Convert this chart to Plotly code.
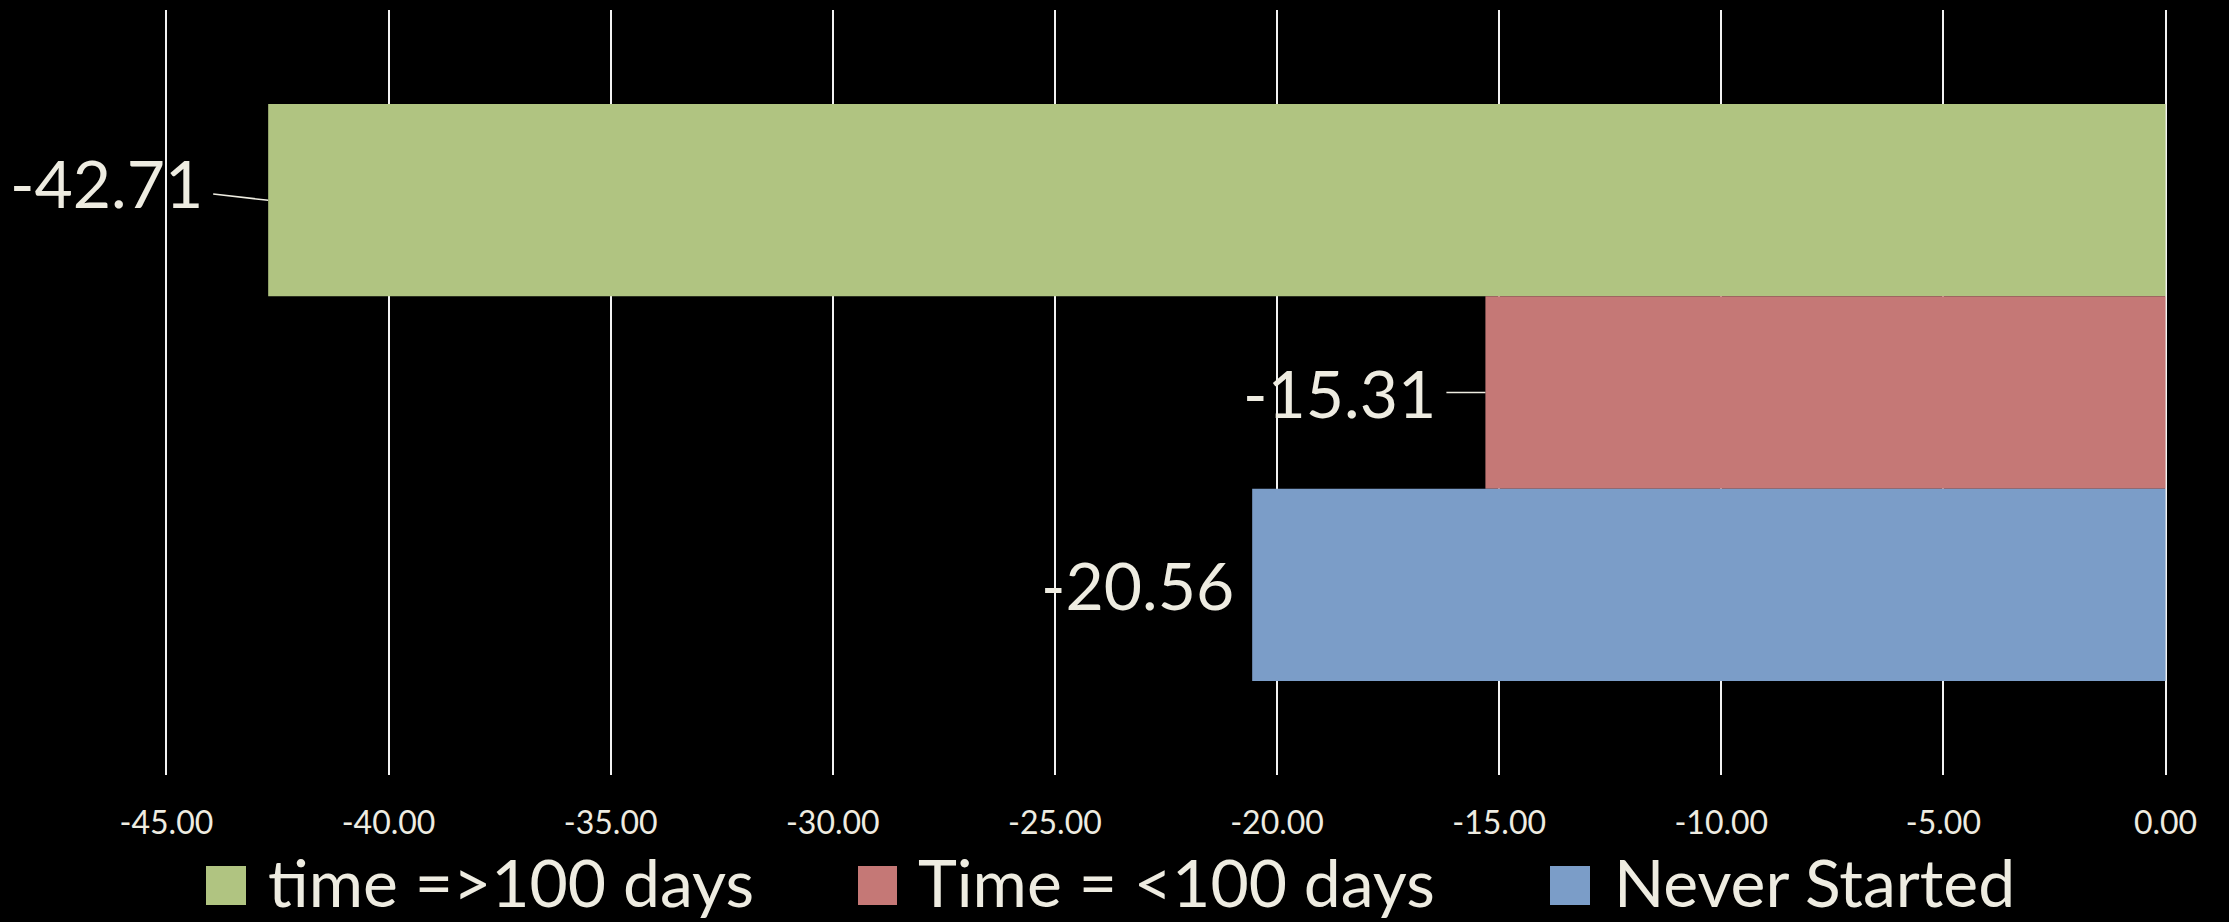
import plotly.graph_objects as go

# ---- data ----
series_names = ["time =>100 days", "Time = <100 days", "Never Started"]
series_values = [-42.71, -15.31, -20.56]
tick_values = [-45, -40, -35, -30, -25, -20, -15, -10, -5, 0]
tick_labels = ["-45.00", "-40.00", "-35.00", "-30.00", "-25.00", "-20.00",
               "-15.00", "-10.00", "-5.00", "0.00"]

# ---- style ----
colors = ["#B0C481", "#C57876", "#7B9DC8"]
text_color = "#EEECE1"
FONT = "Lato, Gill Sans, sans-serif"
W, H = 2229, 922
L, R, T, B = 162, 59, 10, 147
pw, ph = W - L - R, H - T - B
bargap = 0.246


def px(xp):
    return (xp - L) / pw


def py(yp):
    return (H - B - yp) / ph


fig = go.Figure()
for name, val, col in zip(series_names, series_values, colors):
    fig.add_trace(go.Bar(x=[val], y=[0], orientation="h", name=name,
                         marker=dict(color=col, line=dict(width=0)),
                         showlegend=False, hoverinfo="x+name"))

n = len(series_values)
slot = (1 - bargap) / n
centers = [-(1 - bargap) / 2 + (i + 0.5) * slot for i in range(n)]

annotations = []
# data labels
label_font = dict(family=FONT, size=66, color=text_color)
annotations.append(dict(x=series_values[0], y=centers[0], xref="x", yref="y",
                        text=f"{series_values[0]:.2f}", showarrow=True,
                        ax=-162, ay=-18, arrowhead=0, arrowwidth=1.5,
                        arrowcolor=text_color, borderpad=10, standoff=0,
                        font=label_font))
annotations.append(dict(x=series_values[1], y=centers[1], xref="x", yref="y",
                        text=f"{series_values[1]:.2f}", showarrow=True,
                        ax=-146, ay=0, arrowhead=0, arrowwidth=1.5,
                        arrowcolor=text_color, borderpad=10, standoff=0,
                        font=label_font))
annotations.append(dict(x=series_values[2], y=centers[2], xref="x", yref="y",
                        text=f"{series_values[2]:.2f}", showarrow=False,
                        xanchor="right", xshift=-16, font=label_font))

# manual legend (large swatches)
leg_sq = [(206, 246), (858, 897), (1550, 1590)]
leg_tx = [267, 917, 1613]
shapes = []
for (x0, x1), tx, name, col in zip(leg_sq, leg_tx, series_names, colors):
    shapes.append(dict(type="rect", xref="paper", yref="paper",
                       x0=px(x0), x1=px(x1), y0=py(905), y1=py(866),
                       fillcolor=col, line=dict(width=0)))
    annotations.append(dict(x=px(tx), y=py(881), xref="paper", yref="paper",
                            xanchor="left", yanchor="middle", text=name,
                            showarrow=False, borderpad=0,
                            font=dict(family=FONT, size=66, color=text_color)))

fig.update_layout(
    width=W, height=H,
    margin=dict(l=L, r=R, t=T, b=B, pad=0),
    paper_bgcolor="#000000", plot_bgcolor="#000000",
    barmode="group", bargap=bargap,
    showlegend=False,
    xaxis=dict(range=[-45.1, 0.1], tickvals=tick_values, ticktext=tick_labels,
               showgrid=True, gridcolor="#F2F2F2", gridwidth=1.6,
               zeroline=False, showline=False, ticks="",
               ticklabelstandoff=26,
               tickfont=dict(family=FONT, size=32, color=text_color)),
    yaxis=dict(range=[0.5, -0.5], showticklabels=False, showgrid=False,
               zeroline=False, showline=False),
    annotations=annotations, shapes=shapes,
)

fig.write_html("out.html",
               config={"displayModeBar": False},
               post_script="document.body.style.margin='0';"
                           "document.body.style.background='#000';")
